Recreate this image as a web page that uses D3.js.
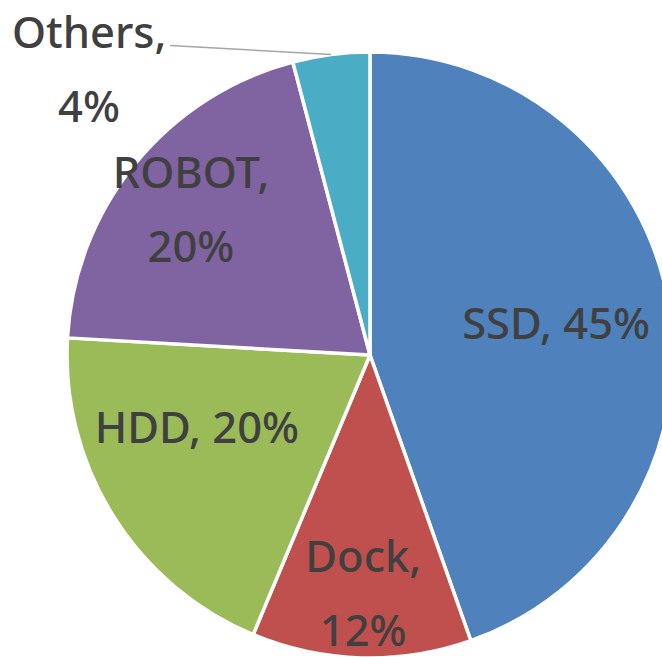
<!DOCTYPE html>
<html lang="en">
<head>
  <meta charset="UTF-8">
  <title>Pie</title>
  <script src="https://cdn.jsdelivr.net/npm/d3@7/dist/d3.min.js"></script>
  <style>
    html, body { margin: 0; padding: 0; background: #fff; }
    svg { display: block; }
  </style>
</head>
<body>
  <script>
    // data
    const categories = ['SSD', 'Dock', 'HDD', 'ROBOT', 'Others'];
    const values = [44.6, 11.7, 19.6, 20.0, 4.1];
    const colors = ['#4F81BD', '#C0504D', '#9BBB59', '#8064A2', '#4BACC6'];

    // label layout: radius factor, nudge, split into two lines or not
    const labelK = [0.62, 0.79, 0.6, 0.75, 1.0];
    const labelNudge = [[1, 0], [0, -1], [-19, -24], [-3, -2], [-242, 14]];
    const labelTwoLines = [false, true, false, true, true];

    const W = 662, H = 657;
    const cx = 370, cy = 355, R = 303;

    let svg = d3.select('body').append('svg')
      .attr('width', W).attr('height', H);
    let g = svg.append('g').attr('transform', `translate(${cx}, ${cy})`);

    let data = categories.map((c, i) => ({name: c, value: values[i], color: colors[i], i: i}));
    let total = d3.sum(values);

    let pieGen = d3.pie().value(d => d.value).sort(null);
    let pieRes = pieGen(data);

    let arcGen = d3.arc().innerRadius(0).outerRadius(R);

    g.selectAll('path.slice')
      .data(pieRes)
      .enter().append('path')
      .attr('class', 'slice')
      .attr('d', arcGen)
      .attr('fill', d => d.data.color)
      .attr('stroke', '#fff')
      .attr('stroke-width', 3.5)
      .attr('stroke-linejoin', 'round');

    const fontSize = 43.5, lineGap = 74, capHalf = 16;

    pieRes.forEach(p => {
      let i = p.data.i;
      let mid = (p.startAngle + p.endAngle) / 2;
      let r = R * labelK[i];
      let px = Math.sin(mid) * r;
      let py = -Math.cos(mid) * r;
      let x = px + labelNudge[i][0];
      let y = py + labelNudge[i][1];
      let pct = Math.round(p.data.value / total * 100) + '%';
      let lines = labelTwoLines[i] ? [p.data.name + ',', pct] : [p.data.name + ', ' + pct];

      // leader line for the label pushed outside the pie
      if (labelK[i] >= 1) {
        g.append('line')
          .attr('x1', px).attr('y1', py)
          .attr('x2', x + 81).attr('y2', y - 23)
          .attr('stroke', '#A6A6A6')
          .attr('stroke-width', 1.5);
      }

      let t = g.append('text')
        .attr('text-anchor', 'middle')
        .attr('font-family', '"Noto Sans", "Open Sans", sans-serif')
        .attr('font-size', fontSize)
        .attr('font-weight', 500)
        .attr('fill', '#404040');
      lines.forEach((s, k) => {
        let off = lines.length === 1 ? 0 : (k === 0 ? -lineGap / 2 : lineGap / 2);
        t.append('tspan')
          .attr('x', x)
          .attr('y', y + capHalf + off)
          .text(s);
      });
    });
  </script>
</body>
</html>
